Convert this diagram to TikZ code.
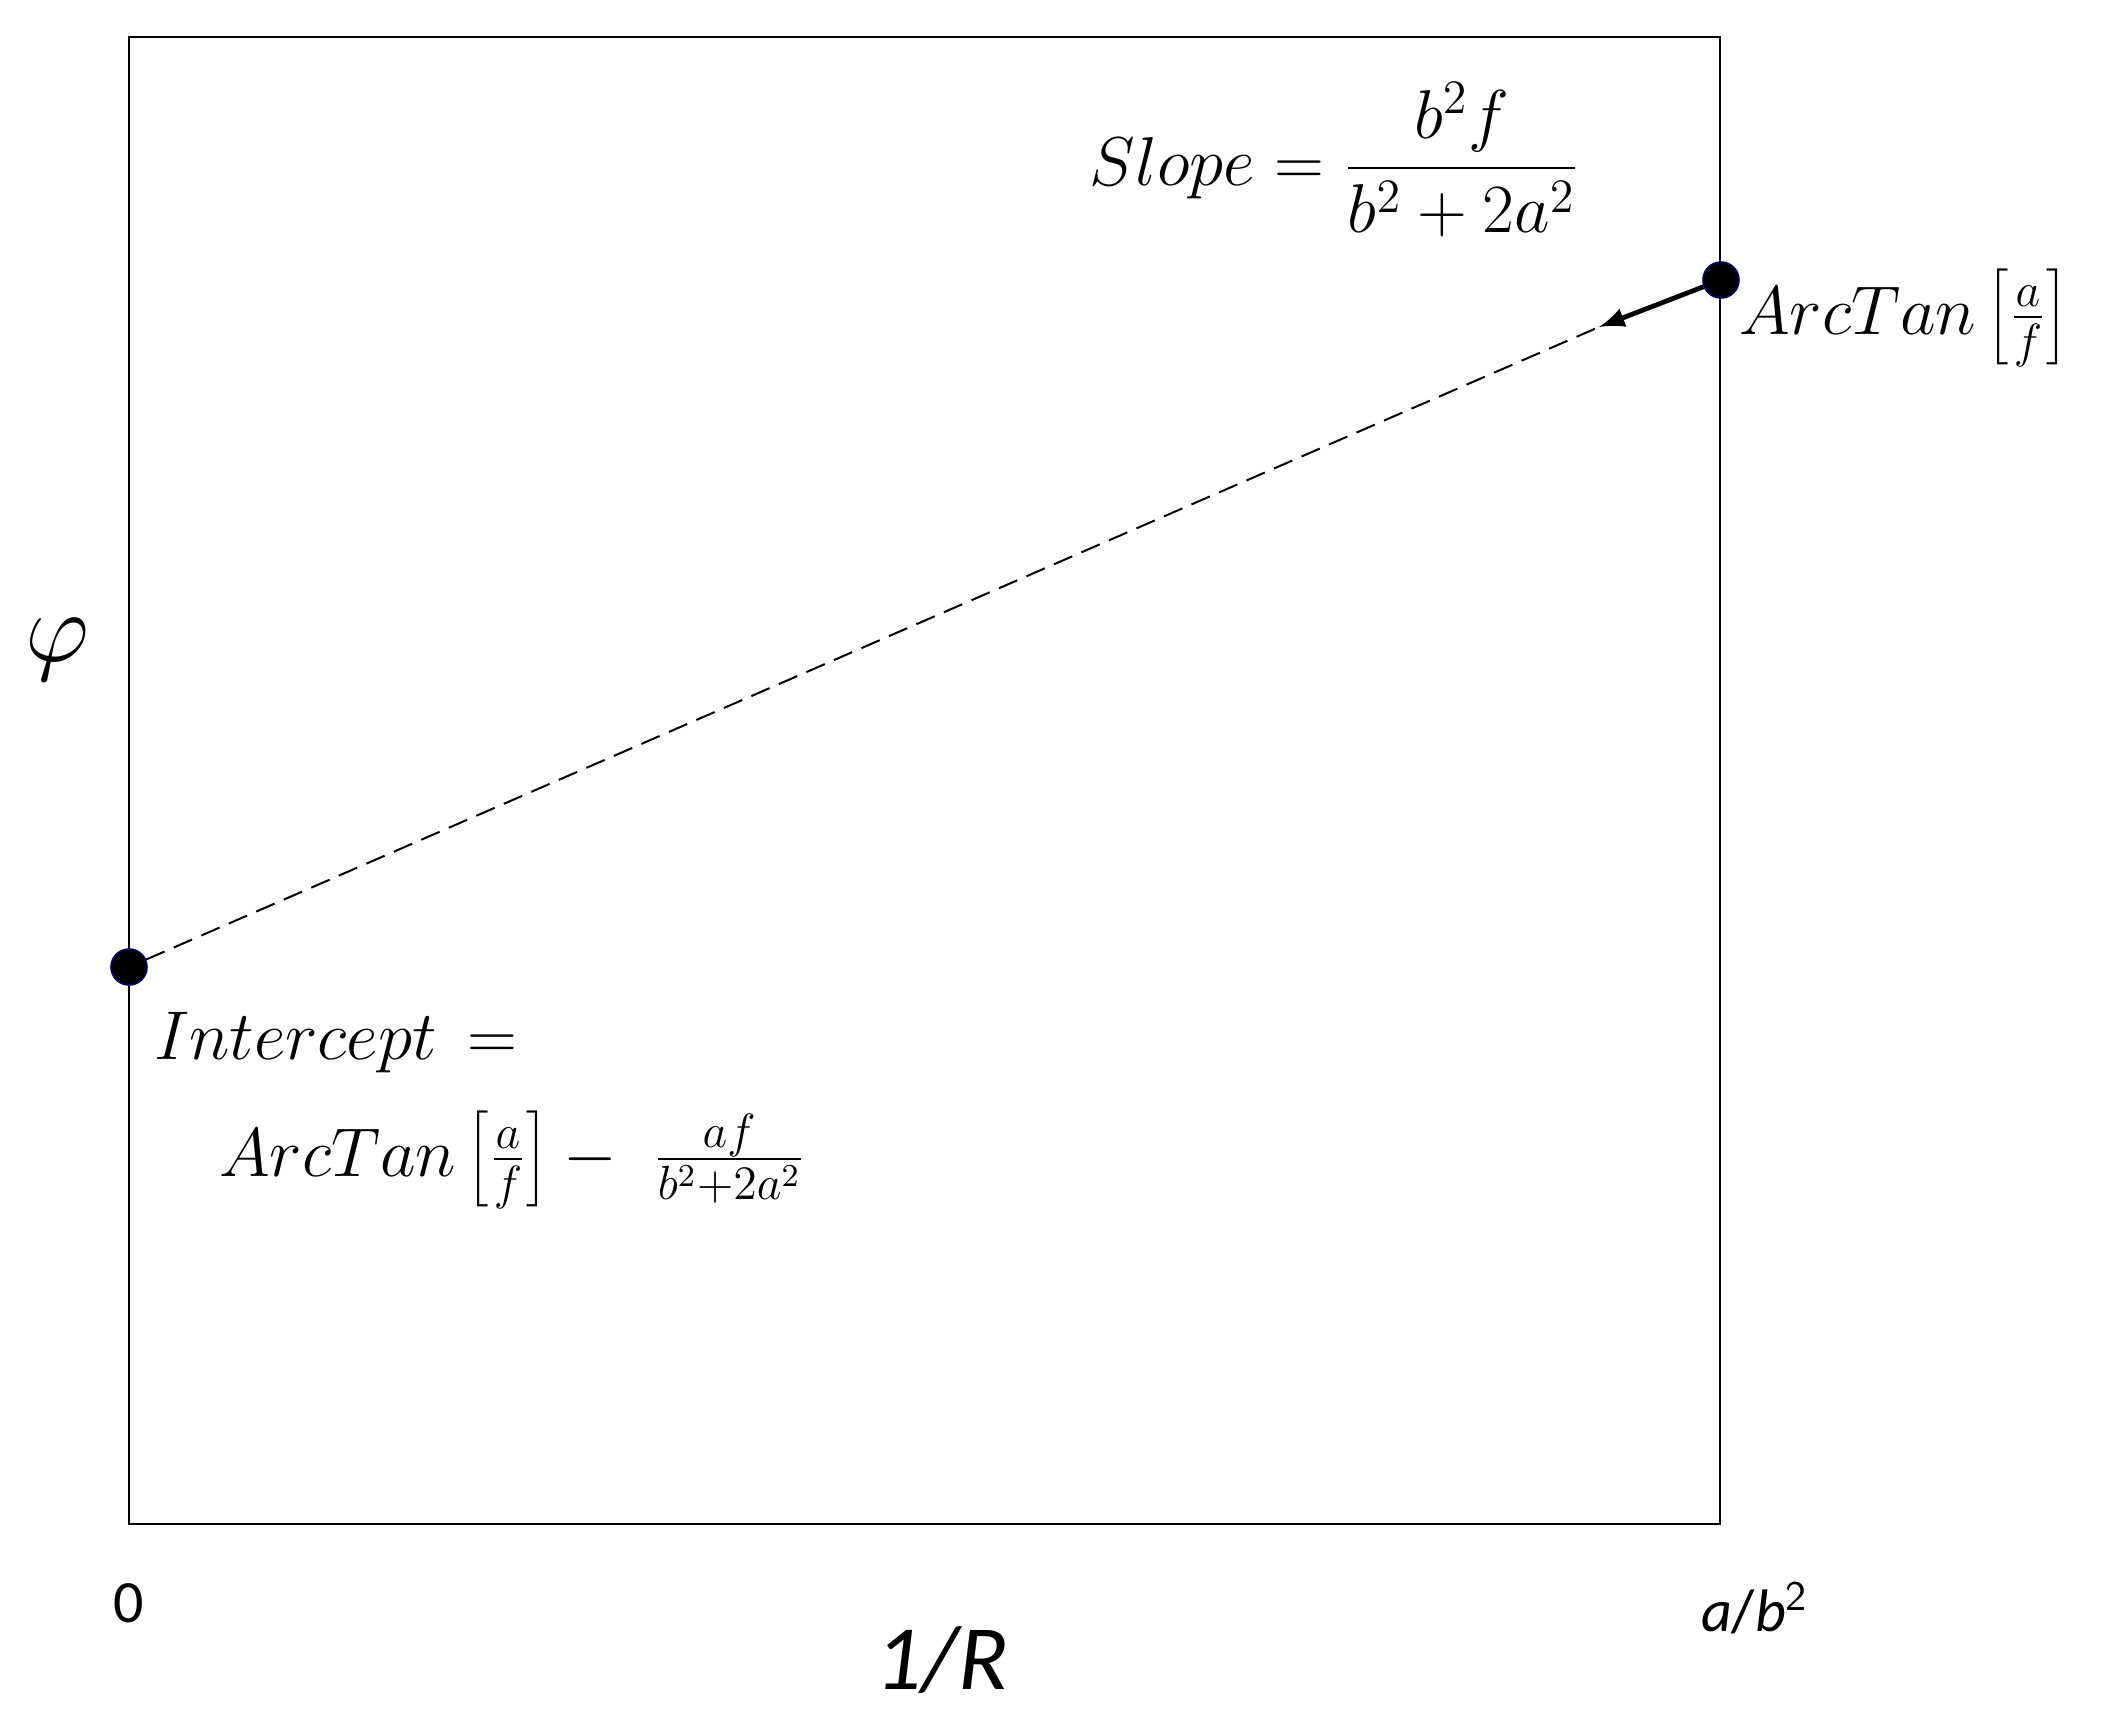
\documentclass[tikz,border=0pt]{standalone}
\usepackage{fontspec}
\newfontfamily\carl{Carlito}
\begin{document}
\begin{tikzpicture}[x=0.25pt,y=-0.25pt,
  dot/.style={circle,fill=black,draw=blue!40!black,minimum size=9pt,inner sep=0pt},
  mt/.style={font=\fontsize{17}{20}\selectfont},
  ax/.style={font=\carl\fontsize{15}{18}\selectfont}]
\useasboundingbox (0,0) rectangle (2114,1716);
\draw[line width=0.6pt] (129,37) rectangle (1720,1524);
\node[dot] (p1) at (1721,280) {};
\node[dot] (p0) at (129,967) {};
\coordinate (c) at (1599,327);
\draw[dashed,line width=0.5pt,dash pattern=on 5pt off 2.5pt] (p0) -- (c);
\draw[-latex,line width=1.2pt] (p1) -- (c);
\node[mt] (slope) at (1335,160) {$Slope = {\displaystyle\frac{b^2 f}{b^2+2a^2}}$};
\node[mt,anchor=west] (at) at (1725,318) {$ArcTan\left[\frac{a}{f}\right]$};
\node[mt,anchor=west] (ic) at (140,1043) {$Intercept\,=$};
\node[mt,anchor=west] (ic2) at (205,1160) {$ArcTan\left[\frac{a}{f}\right]-\ \frac{af}{b^2+2a^2}$};
\node[font=\fontsize{24}{28}\selectfont] (phi) at (57,650) {$\varphi$};
\node[ax] (z) at (129,1603) {0};
\node[ax] (ab) at (1755,1608) {\textit{a}/\textit{b}$^{\mathsf 2}$};
\node[font=\carl\itshape\fontsize{23}{26}\selectfont] (r) at (942,1660) {1/R};
\end{tikzpicture}
\end{document}
